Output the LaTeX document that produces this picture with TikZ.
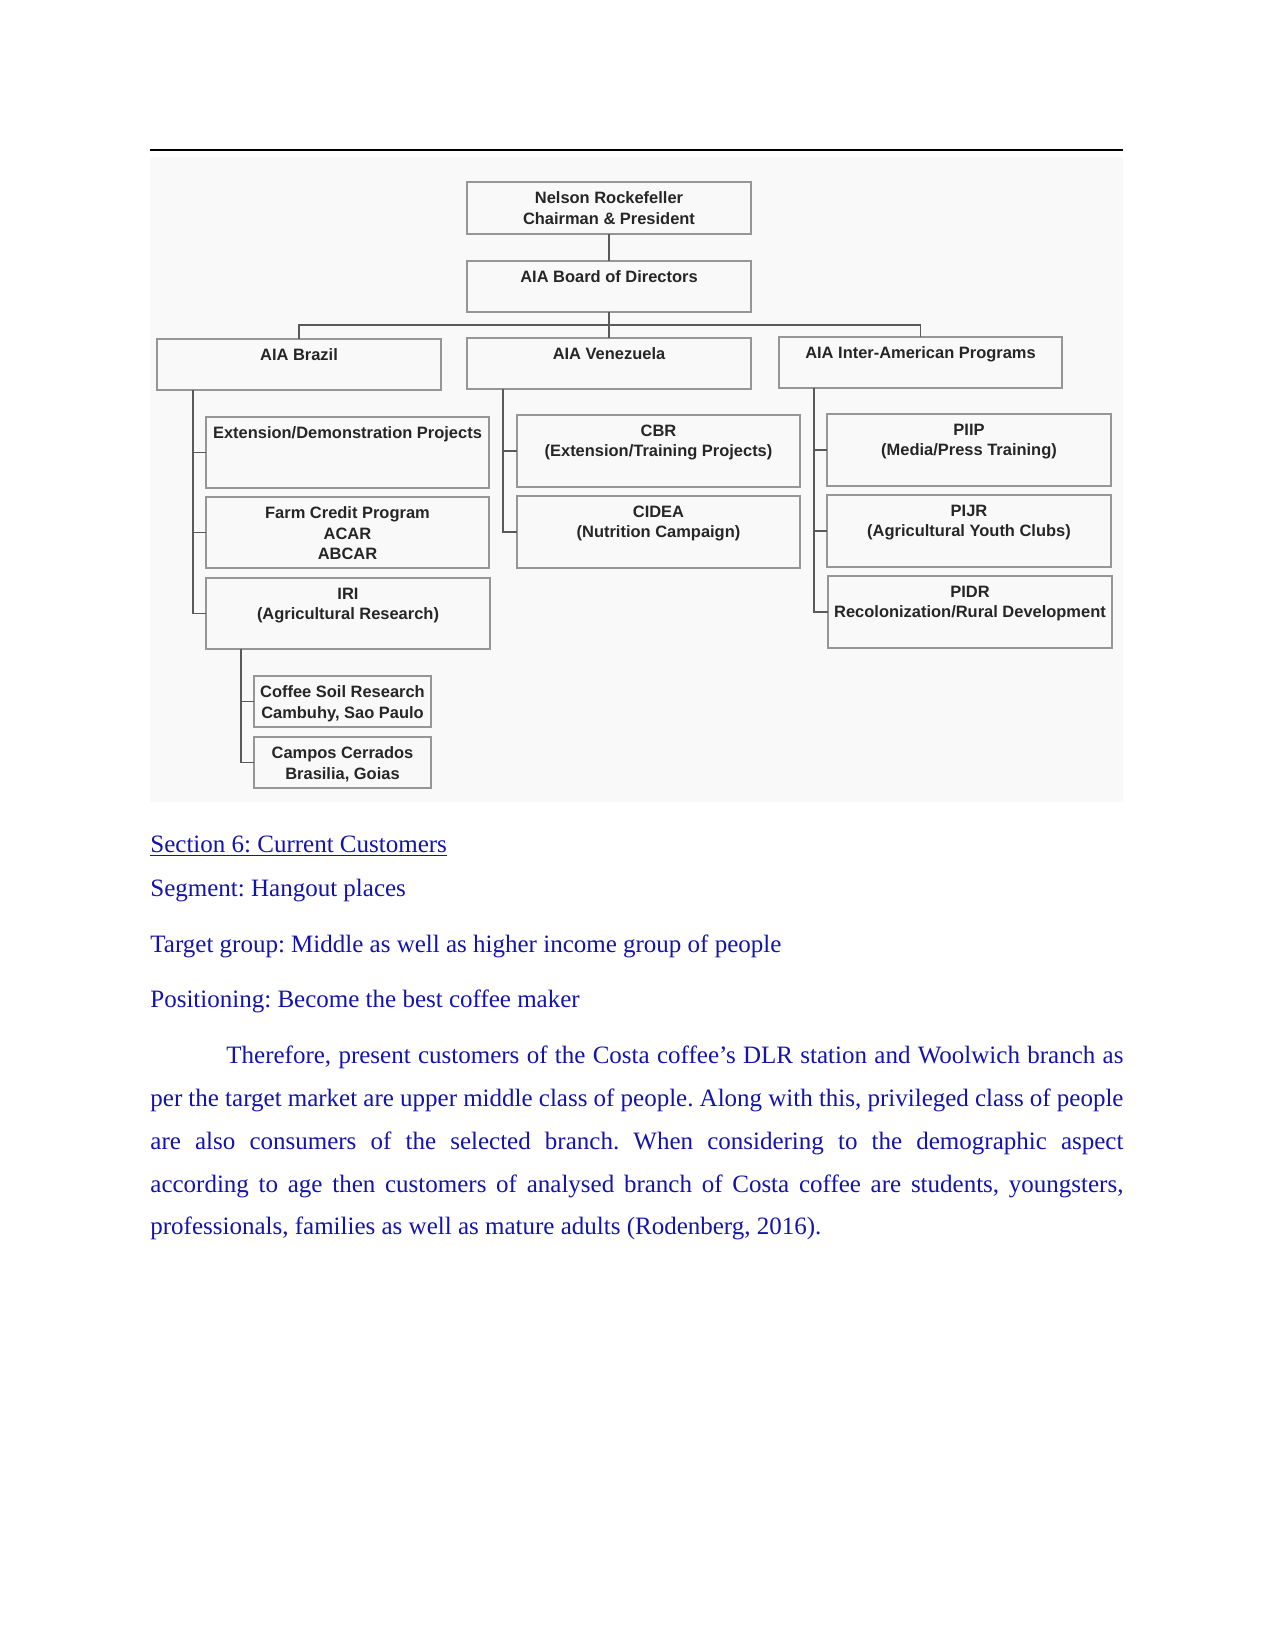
\documentclass[tikz,border=0pt]{standalone}
\usepackage{fontspec}
\setmainfont{Liberation Serif}
\newfontfamily\diagfont{Liberation Sans}
\definecolor{txtblue}{RGB}{20,20,170}
\definecolor{boxgray}{RGB}{150,150,150}
\definecolor{linegray}{RGB}{90,90,90}
\definecolor{bggray}{RGB}{249,249,249}
\tikzset{
  obox/.style={draw=boxgray, line width=0.9pt, inner sep=0pt, outer sep=0pt},
  olbl/.style={font=\diagfont\bfseries\fontsize{7.9}{9.84}\selectfont, text=black!85, align=center, inner sep=0pt},
  conn/.style={draw=linegray, line width=0.85pt},
  body/.style={font=\fontsize{12}{14}\selectfont\frenchspacing, text=txtblue, inner sep=0pt, anchor=base west}
}
\newcommand{\orgbox}[6]{%
  \node[obox, anchor=north west, minimum width={(#4-#2)*0.48pt}, minimum height={(#5-#3)*0.48pt}] (#1) at (#2,#3) {};
  \node[olbl, anchor=north] (#1-t) at ([yshift=-4.5pt]#1.north) {#6};}
\begin{document}
\begin{tikzpicture}[x=0.48pt,y=-0.48pt]
\fill[white] (0,0) rectangle (1275,1650);
\useasboundingbox (0,0) rectangle (1275,1650);
% header rule and picture background
\draw[line width=0.6pt] (150,150) -- (1123,150);
\fill[bggray] (150,157) rectangle (1123,802);
% boxes
\orgbox{nr}{467}{182}{751}{234}{Nelson Rockefeller\\Chairman \& President}
\orgbox{bd}{467}{261}{751}{312}{AIA Board of Directors}
\orgbox{br}{157}{339}{441}{390}{AIA Brazil}
\orgbox{ve}{467}{338}{751}{389}{AIA Venezuela}
\orgbox{ia}{779}{337}{1062}{388}{AIA Inter-American Programs}
\orgbox{ext}{206}{417}{489}{488}{Extension/Demonstration Projects}
\orgbox{fcp}{206}{497}{489}{568}{Farm Credit Program\\ACAR\\ABCAR}
\orgbox{iri}{206}{578}{490}{649}{IRI\\(Agricultural Research)}
\orgbox{cof}{254}{676}{431}{727}{Coffee Soil Research\\Cambuhy, Sao Paulo}
\orgbox{cam}{254}{737}{431}{788}{Campos Cerrados\\Brasilia, Goias}
\orgbox{cbr}{517}{415}{800}{487}{CBR\\(Extension/Training Projects)}
\orgbox{cid}{517}{496}{800}{568}{CIDEA\\(Nutrition Campaign)}
\orgbox{piip}{827}{414}{1111}{486}{PIIP\\(Media/Press Training)}
\orgbox{pijr}{827}{495}{1111}{567}{PIJR\\(Agricultural Youth Clubs)}
\orgbox{pidr}{828}{576}{1112}{648}{PIDR\\Recolonization/Rural Development}
% connectors
\coordinate (bus) at (609,325);
\draw[conn] (nr) -- (bd);
\draw[conn] (bd) -- (ve);
\draw[conn] (br.north) |- (bus) -| (ia.north);
\coordinate (brT) at (193,390);
\draw[conn] (brT) |- (iri.west);
\draw[conn] (ext.west) -- (ext.west -| brT);
\draw[conn] (fcp.west) -- (fcp.west -| brT);
\coordinate (veT) at (503,389);
\draw[conn] (veT) |- (cid.west);
\draw[conn] (cbr.west) -- (cbr.west -| veT);
\coordinate (iaT) at (814,388);
\draw[conn] (iaT) |- (pidr.west);
\draw[conn] (piip.west) -- (piip.west -| iaT);
\draw[conn] (pijr.west) -- (pijr.west -| iaT);
\coordinate (iriT) at (241,649);
\draw[conn] (iriT) |- (cam.west);
\draw[conn] (cof.west) -- (cof.west -| iriT);
% body text
\node[body] (sec) at (150,852) {Section 6: Current Customers};
\draw[txtblue, line width=0.5pt] ([yshift=-1.9pt]sec.base west) -- ([yshift=-1.9pt]sec.base east);
\node[body] (seg) at (150,896) {Segment: Hangout places};
\node[body] (tg) at (150,952) {Target group: Middle as well as higher income group of people};
\node[body] (pos) at (150,1007) {Positioning: Become the best coffee maker};
\node[body] (p1) at (226,1063) {\makebox[430.56pt][s]{Therefore, present customers of the Costa coffee's DLR station and Woolwich branch as}};
\node[body] (p2) at (150,1106) {\makebox[467.04pt][s]{per the target market are upper middle class of people. Along with this, privileged class of people}};
\node[body] (p3) at (150,1149) {\makebox[467.04pt][s]{are also consumers of the selected branch. When considering to the demographic aspect}};
\node[body] (p4) at (150,1192) {\makebox[467.04pt][s]{according to age then customers of analysed branch of Costa coffee are students, youngsters,}};
\node[body] (p5) at (150,1234) {professionals, families as well as mature adults (Rodenberg, 2016).};
\end{tikzpicture}
\end{document}
